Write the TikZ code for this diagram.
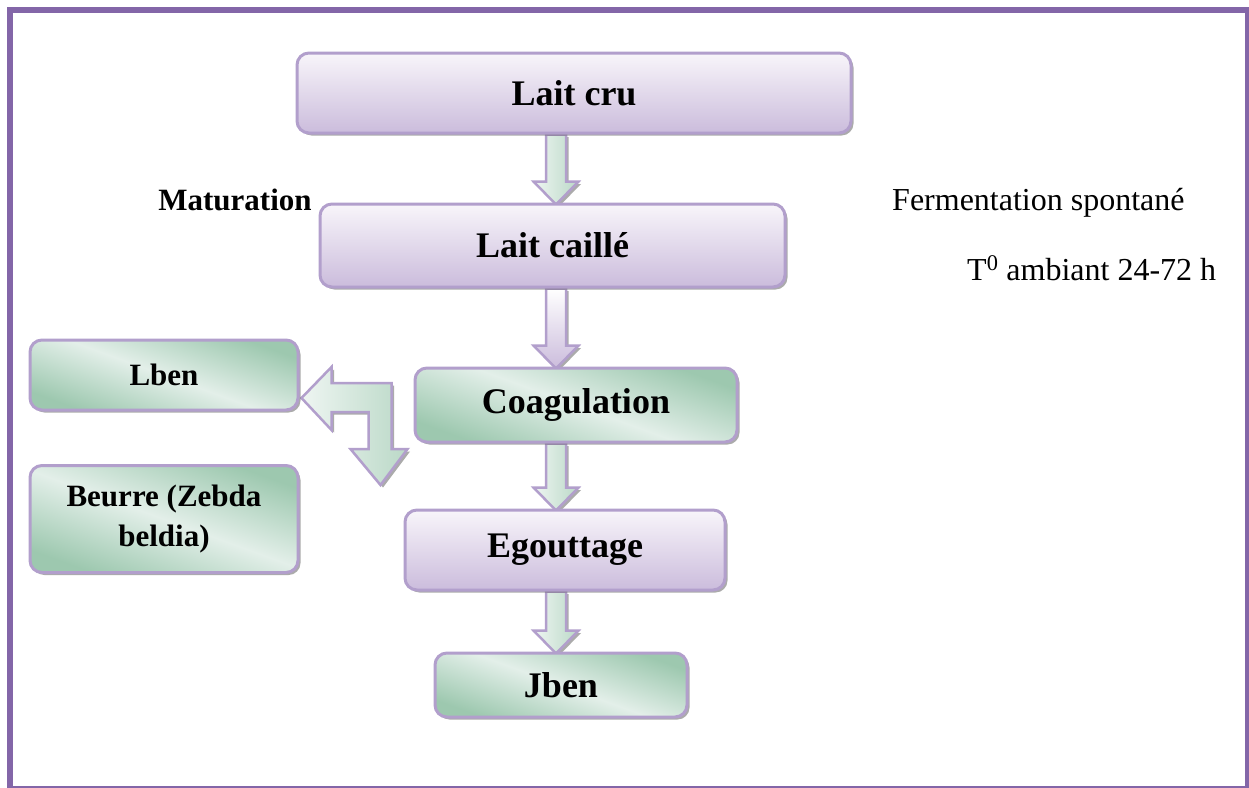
\documentclass[tikz,border=0pt]{standalone}
\usepackage{fontspec}
\setmainfont{Liberation Serif}
\usetikzlibrary{calc,shadows,backgrounds}
\definecolor{frameP}{HTML}{8366A8}
\definecolor{edgeP}{HTML}{B29FCC}
\definecolor{purTop}{HTML}{F8F5FA}
\definecolor{purBot}{HTML}{CBBCDC}
\definecolor{grDark}{HTML}{9DC8AF}
\definecolor{grLight}{HTML}{E3EFE9}
\tikzset{
  shadowed/.style={drop shadow={shadow xshift=2.5pt, shadow yshift=-2.5pt, fill=black!65, opacity=.5}},
  boxbase/.style={draw=edgeP, line width=3pt, rounded corners=12pt, inner sep=0pt, align=center,
    font=\bfseries\fontsize{36}{40}\selectfont, shadowed},
  purplebox/.style={boxbase, top color=purTop, bottom color=purBot},
  greenbox/.style={boxbase, top color=grDark, bottom color=grDark, middle color=grLight, shading angle=-20},
  sidebox/.style={greenbox, font=\bfseries\fontsize{31}{40}\selectfont},
  arrowbase/.style={draw=edgeP, line width=2.5pt, line join=miter, shadowed},
  greenarrow/.style={arrowbase, left color=grLight!60!white, right color=grDark!70!white},
  purplearrow/.style={arrowbase, top color=white, bottom color=purBot},
  note/.style={inner sep=0pt, font=\fontsize{32}{38}\selectfont},
  notebold/.style={inner sep=0pt, font=\bfseries\fontsize{31}{38}\selectfont}
}
\newcommand\flowarrow[4]{%
  \draw[#1] let \p1=(#2.south), \p2=(#3.north), \p3=(#4) in
    (\x3-10pt,\y1) -- (\x3-10pt,\y2+21pt) -- (\x3-22.5pt,\y2+21pt) -- (\x3,\y2-2pt)
    -- (\x3+22.5pt,\y2+21pt) -- (\x3+10pt,\y2+21pt) -- (\x3+10pt,\y1) -- cycle;}
\begin{document}
\begin{tikzpicture}[x=1pt,y=-1pt]
\useasboundingbox (0,0) rectangle (1249,787);

\node[purplebox, minimum width=554pt, minimum height=80pt] (cru) at (574,93) {Lait cru};
\node[purplebox, minimum width=465pt, minimum height=83pt] (caille) at (552.5,245.5) {Lait caillé};
\node[greenbox, minimum width=322pt, minimum height=74pt] (coag) at (576,405) {Coagulation};
\node[purplebox, minimum width=320pt, minimum height=80pt] (egout) at (565,550) {Egouttage};
\node[greenbox, minimum width=252pt, minimum height=64pt] (jben) at (561,685) {Jben};
\node[sidebox, minimum width=268pt, minimum height=70pt] (lben) at (164,375) {Lben};
\node[sidebox, minimum width=268pt, minimum height=107pt] (beurre) at (164,519) {Beurre (Zebda\\beldia)};

\coordinate (ax) at (556,0);
\begin{scope}[on background layer]
\fill[white] (0,0) rectangle (1249,787);
\flowarrow{greenarrow}{cru}{caille}{ax}
\flowarrow{purplearrow}{caille}{coag}{ax}
\flowarrow{greenarrow}{coag}{egout}{ax}
\flowarrow{greenarrow}{egout}{jben}{ax}
\draw[greenarrow] ([shift={(2,23)}]lben.east) -- ++(30,-31) -- ++(0,16) -- ++(60,0)
  -- ++(0,66) -- ++(16,0) -- ++(-27,36) -- ++(-30,-36) -- ++(18,0) -- ++(0,-37)
  -- ++(-37,0) -- ++(0,18) -- cycle;
\end{scope}
\draw[frameP, line width=6pt] (10,10) rectangle (1248,789);

\node[notebold, anchor=base] (mat) at (235,210) {Maturation};
\node[note, anchor=base west] (ferm) at (892,210) {Fermentation spontané};
\node[note, anchor=base west] (temp) at (967,280) {T\textsuperscript{0} ambiant 24-72 h};
\end{tikzpicture}
\end{document}
